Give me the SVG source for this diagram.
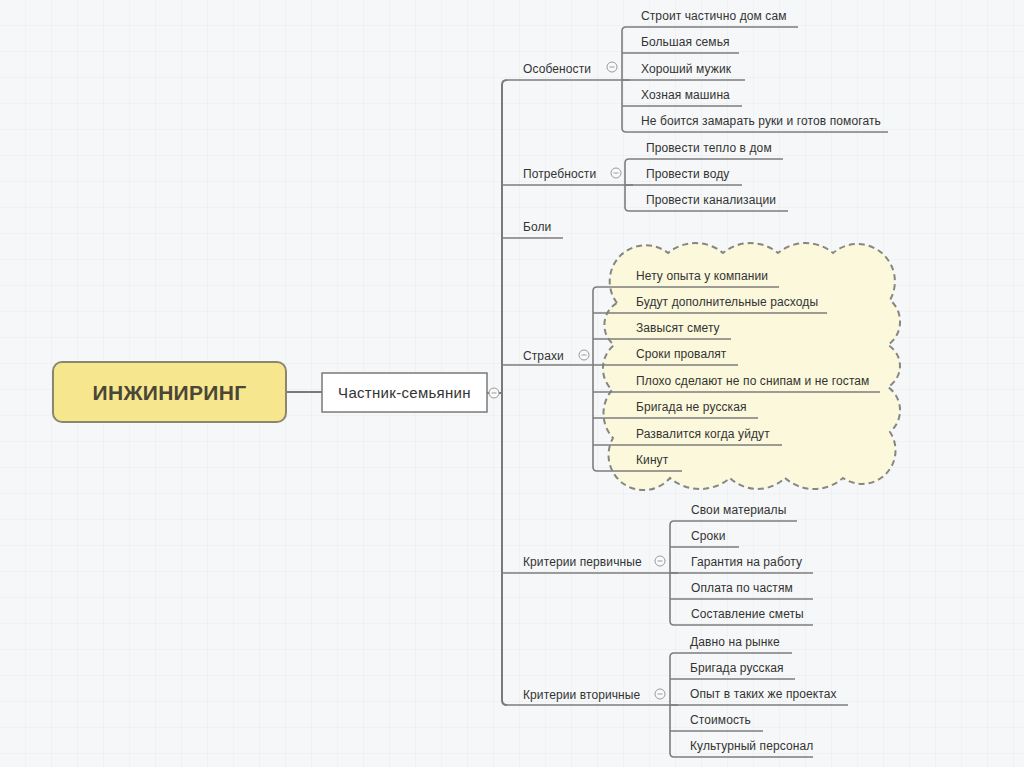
<svg xmlns="http://www.w3.org/2000/svg" width="1024" height="767" viewBox="0 0 1024 767">
<defs>
<pattern id="grid" width="26" height="26" patternUnits="userSpaceOnUse">
<rect width="26" height="26" fill="#f6f7f8"/>
<path d="M26 0 V26 M0 26 H26" stroke="#e9ecef" stroke-width="1" fill="none"/>
</pattern>
<style>
.t{font-family:"Liberation Sans",Arial,sans-serif;font-size:12px;fill:#333;letter-spacing:0.1px}
.c{fill:none;stroke:#7d7d7d;stroke-width:1.6}
.tr{fill:none;stroke:#7a7a7a;stroke-width:2}
.col{fill:#fafafa;stroke:#9a9a9a;stroke-width:1}
.mn{stroke:#9a9a9a;stroke-width:1}
</style>
</defs>
<rect width="1024" height="767" fill="url(#grid)"/>

<g id="cloud">
<path d="M617 303 A36 36 0 0 1 668 253 A43 43 0 0 1 723 253 A43 43 0 0 1 778 253 A43 43 0 0 1 833 253 A37.5 37.5 0 0 1 890 300 A28.5 28.5 0 0 1 888 345 A24.4 24.4 0 0 1 888 387 A28.5 28.5 0 0 1 890 432 A33.5 33.5 0 0 1 843 478 A43.7 43.7 0 0 1 785 478 A40 40 0 0 1 730 478 A46.4 46.4 0 0 1 670 478 A35 35 0 0 1 613 438 A36.5 36.5 0 0 1 612 390 A30.3 30.3 0 0 1 614 345 A25.5 25.5 0 0 1 617 303 Z" fill="#fbf8dc" stroke="#878780" stroke-width="2" stroke-dasharray="6 4"/>
</g>

<g id="connectors">
<path class="tr" d="M286 392 H322"/>
<path class="tr" d="M487 393 H502"/>
<path class="tr" d="M507 80 Q502 80 502 85 V700 Q502 705 507 705"/>
<path class="c" d="M507 80 H630 M502 185 H633 M502 238 H563 M502 365 H593 M502 573 H678 M507 705 H678"/>
<path class="c" d="M798 27 H626 Q622 27 622 31 V128 Q622 132 626 132 H888 M622 53 H739 M622 80 H745 M622 106 H742"/>
<path class="c" d="M783 159 H629 Q625 159 625 163 V207 Q625 211 629 211 H788 M625 185 H742"/>
<path class="c" d="M779 287 H597 Q593 287 593 291 V467 Q593 471 597 471 H682 M593 313 H827 M593 339 H731 M593 365 H738 M593 392 H880 M593 418 H758 M593 445 H782"/>
<path class="c" d="M797 521 H674 Q670 521 670 525 V621 Q670 625 674 625 H813 M670 547 H739 M670 573 H813 M670 599 H813"/>
<path class="c" d="M792 653 H674 Q670 653 670 657 V753 Q670 757 674 757 H813 M670 679 H795 M670 705 H848 M670 731 H763"/>
</g>

<g id="root">
<rect x="53" y="362" width="233" height="60" rx="9" fill="#f6e78f" stroke="#8c8670" stroke-width="2"/>
<text x="169.5" y="400" text-anchor="middle" style="font-family:'Liberation Sans',Arial,sans-serif;font-size:21px;font-weight:bold;fill:#4b4636;letter-spacing:0.3px">ИНЖИНИРИНГ</text>
</g>

<g id="central">
<rect x="322" y="373" width="165" height="39" fill="#ffffff" stroke="#7a7a7a" stroke-width="1.5"/>
<text x="404.5" y="398" text-anchor="middle" class="t" style="font-size:15px;letter-spacing:0.3px">Частник-семьянин</text>
<circle class="col" cx="494" cy="393" r="5"/><path class="mn" d="M491.5 393 H496.5"/>
</g>

<g id="osobennosti">
<text class="t" x="523" y="73">Особености</text>
<circle class="col" cx="612" cy="67" r="5"/><path class="mn" d="M609.5 67 H614.5"/>
<text class="t" x="641" y="20">Строит частично дом сам</text>
<text class="t" x="641" y="46">Большая семья</text>
<text class="t" x="641" y="73">Хороший мужик</text>
<text class="t" x="641" y="99">Хозная машина</text>
<text class="t" x="641" y="125">Не боится замарать руки и готов помогать</text>
</g>

<g id="potrebnosti">
<text class="t" x="523" y="178">Потребности</text>
<circle class="col" cx="616" cy="173" r="5"/><path class="mn" d="M613.5 173 H618.5"/>
<text class="t" x="646" y="152">Провести тепло в дом</text>
<text class="t" x="646" y="178">Провести воду</text>
<text class="t" x="646" y="204">Провести канализации</text>
</g>

<g id="boli">
<text class="t" x="523" y="231">Боли</text>
</g>

<g id="strahi">
<text class="t" x="523" y="360">Страхи</text>
<circle class="col" cx="584" cy="355" r="5"/><path class="mn" d="M581.5 355 H586.5"/>
<text class="t" x="636" y="280">Нету опыта у компании</text>
<text class="t" x="636" y="306">Будут дополнительные расходы</text>
<text class="t" x="636" y="332">Завысят смету</text>
<text class="t" x="636" y="358">Сроки провалят</text>
<text class="t" x="636" y="385">Плохо сделают не по снипам и не гостам</text>
<text class="t" x="636" y="411">Бригада не русская</text>
<text class="t" x="636" y="438">Развалится когда уйдут</text>
<text class="t" x="636" y="464">Кинут</text>
</g>

<g id="kriterii1">
<text class="t" x="523" y="566">Критерии первичные</text>
<circle class="col" cx="660" cy="561" r="5"/><path class="mn" d="M657.5 561 H662.5"/>
<text class="t" x="691" y="514">Свои материалы</text>
<text class="t" x="691" y="540">Сроки</text>
<text class="t" x="691" y="566">Гарантия на работу</text>
<text class="t" x="691" y="592">Оплата по частям</text>
<text class="t" x="691" y="618">Составление сметы</text>
</g>

<g id="kriterii2">
<text class="t" x="523" y="699">Критерии вторичные</text>
<circle class="col" cx="660" cy="694" r="5"/><path class="mn" d="M657.5 694 H662.5"/>
<text class="t" x="690" y="646">Давно на рынке</text>
<text class="t" x="690" y="672">Бригада русская</text>
<text class="t" x="690" y="698">Опыт в таких же проектах</text>
<text class="t" x="690" y="724">Стоимость</text>
<text class="t" x="690" y="750">Культурный персонал</text>
</g>
</svg>
